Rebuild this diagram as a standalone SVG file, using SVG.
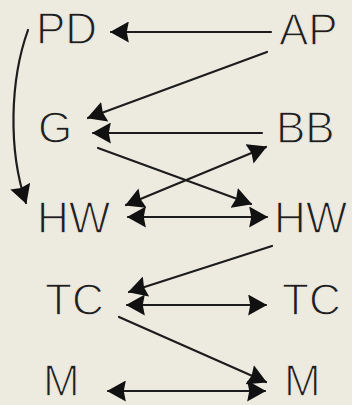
<svg xmlns="http://www.w3.org/2000/svg" width="352" height="405" viewBox="0 0 352 405">
<style>
.bg{fill:#edeae0}
.lbl{font-family:"Liberation Sans",Arial,sans-serif;font-size:44px;fill:#1e1e1e;stroke:#edeae0;stroke-width:1.3}
.c{fill:none;stroke:#1c1c1c;stroke-width:2.2;stroke-linecap:round}
.one{marker-end:url(#ah)}
.two{marker-start:url(#ah);marker-end:url(#ah)}
</style>
<defs>
<marker id="ah" viewBox="0 0 18 20" refX="17" refY="10" markerWidth="19" markerHeight="21" markerUnits="userSpaceOnUse" orient="auto-start-reverse">
<path d="M0,0 L18,10 L0,20 L2,10 z" fill="#111"/>
</marker>
</defs>
<rect class="bg" x="0" y="0" width="352" height="405"/>
<g id="connectors">
<path class="c one" d="M271,32 L111,32"/>
<path class="c one" d="M267,52 L88,118"/>
<path class="c one" d="M262,133 L93,133"/>
<path class="c one" d="M98,148 L251,204"/>
<path class="c two" d="M126,205 L266,147"/>
<path class="c two" d="M128,217 L267,217"/>
<path class="c one" d="M272,246 L129,292"/>
<path class="c two" d="M127,305 L266,305"/>
<path class="c one" d="M119,317 L266,382"/>
<path class="c two" d="M108,391 L265,391"/>
<path class="c one" d="M28,30 C10,80 8,150 26,203"/>
</g>
<g id="PD"><text class="lbl" x="36" y="44">PD</text></g>
<g id="AP"><text class="lbl" x="279" y="45">AP</text></g>
<g id="G"><text class="lbl" x="38" y="143">G</text></g>
<g id="BB"><text class="lbl" x="276" y="143">BB</text></g>
<g id="HW-left"><text class="lbl" x="37" y="233">HW</text></g>
<g id="HW-right"><text class="lbl" x="274" y="233">HW</text></g>
<g id="TC-left"><text class="lbl" x="45" y="315">TC</text></g>
<g id="TC-right"><text class="lbl" x="282" y="315">TC</text></g>
<g id="M-left"><text class="lbl" x="43" y="396">M</text></g>
<g id="M-right"><text class="lbl" x="284" y="396">M</text></g>
</svg>
